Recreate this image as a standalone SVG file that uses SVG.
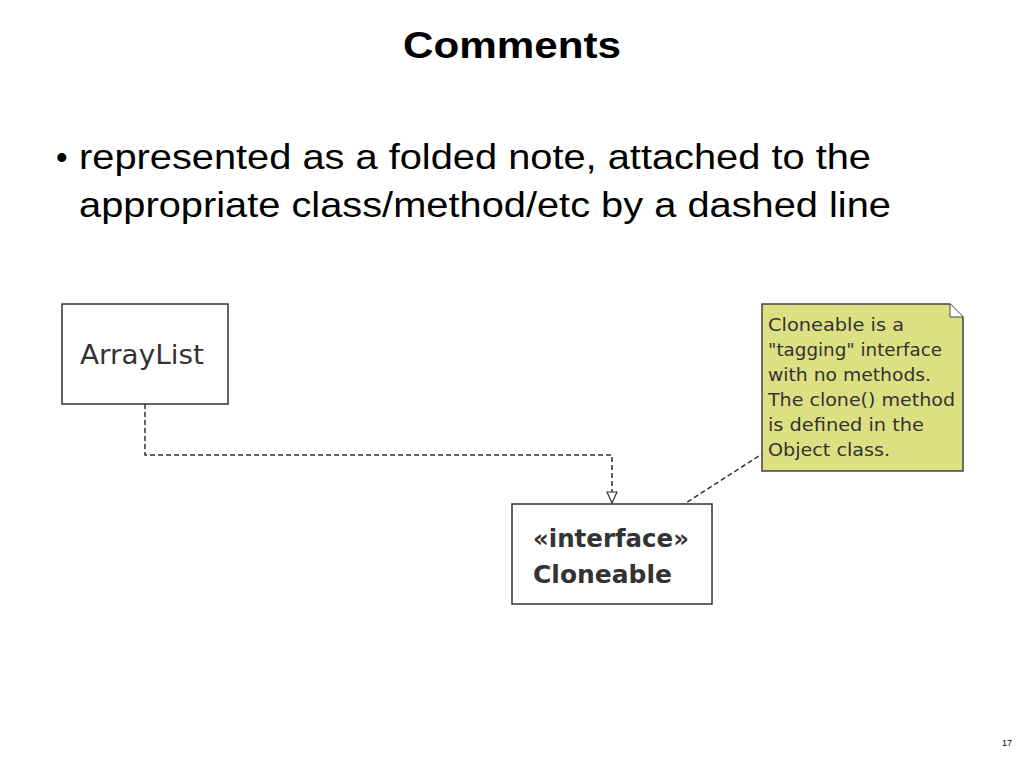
<svg xmlns="http://www.w3.org/2000/svg" width="1024" height="768" viewBox="0 0 1024 768">
<style>
.t{font-family:"Liberation Sans",Arial,sans-serif;fill:#000}
.u{font-family:"DejaVu Sans",sans-serif;fill:#333}
.box{fill:#fff;stroke:#333;stroke-width:1.5}
.c{fill:none;stroke:#333;stroke-width:1.5;stroke-dasharray:5,3}
</style>
<defs>
<marker id="tri" markerWidth="14" markerHeight="14" refX="12" refY="6" orient="auto" markerUnits="userSpaceOnUse" viewBox="0 0 14 12">
<path d="M1,1 L12,6 L1,11 Z" fill="#fff" stroke="#333" stroke-width="1.2"/>
</marker>
</defs>
<rect width="1024" height="768" fill="#fff"/>
<text class="t" x="403" y="58" font-size="37" font-weight="bold" textLength="218" lengthAdjust="spacingAndGlyphs">Comments</text>
<text class="t" x="56" y="169" font-size="33">•</text>
<text class="t" x="79" y="169" font-size="35" textLength="792" lengthAdjust="spacingAndGlyphs">represented as a folded note, attached to the</text>
<text class="t" x="79" y="217" font-size="35" textLength="812" lengthAdjust="spacingAndGlyphs">appropriate class/method/etc by a dashed line</text>
<text class="t" x="1012" y="746" font-size="9" text-anchor="end">17</text>
<g id="connectors">
<path class="c" d="M145,404 V455 H612 V503" marker-end="url(#tri)"/>
<path class="c" stroke-dasharray="3,3" d="M667,515 L762,454"/>
</g>
<g id="arraylist">
<rect class="box" x="62" y="304" width="166" height="100"/>
<text class="u" x="80" y="364" font-size="27" textLength="124" lengthAdjust="spacingAndGlyphs">ArrayList</text>
</g>
<g id="cloneable">
<rect class="box" x="512" y="504" width="200" height="100"/>
<text class="u" x="533" y="547" font-size="25" font-weight="bold" textLength="156" lengthAdjust="spacingAndGlyphs">«interface»</text>
<text class="u" x="533" y="583" font-size="25" font-weight="bold" textLength="139" lengthAdjust="spacingAndGlyphs">Cloneable</text>
</g>
<g id="note">
<path d="M762,304 H950 L963,317 V471 H762 Z" fill="#dcdf82" stroke="#444" stroke-width="1.5"/>
<path d="M950,304 V317 H963" fill="#fff" stroke="#444" stroke-width="1"/>
<g class="u" font-size="18">
<text x="768" y="331" textLength="136" lengthAdjust="spacingAndGlyphs">Cloneable is a</text>
<text x="768" y="356" textLength="174" lengthAdjust="spacingAndGlyphs">"tagging" interface</text>
<text x="768" y="381" textLength="163" lengthAdjust="spacingAndGlyphs">with no methods.</text>
<text x="768" y="406" textLength="187" lengthAdjust="spacingAndGlyphs">The clone() method</text>
<text x="768" y="431" textLength="156" lengthAdjust="spacingAndGlyphs">is defined in the</text>
<text x="768" y="456" textLength="122" lengthAdjust="spacingAndGlyphs">Object class.</text>
</g>
</g>
</svg>
